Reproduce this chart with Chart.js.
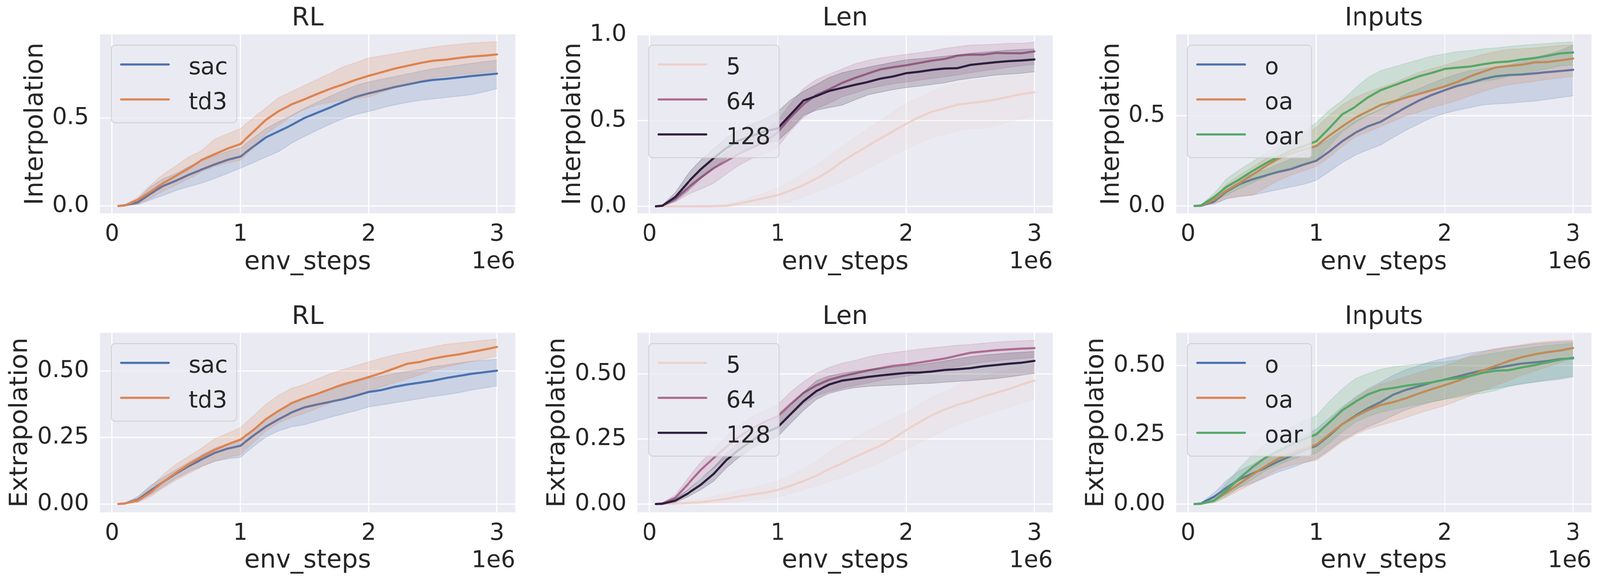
<!DOCTYPE html>
<html>
<head>
<meta charset="utf-8">
<title>Interpolation / Extrapolation</title>
<script src="https://cdn.jsdelivr.net/npm/chart.js@4.4.1/dist/chart.umd.min.js"></script>
<style>
  html, body { margin: 0; padding: 0; background: #ffffff; overflow: hidden; }
  #page { position: relative; width: 4132px; height: 1492px; overflow: hidden; transform-origin: 0 0; }
  .panel { position: absolute; }
</style>
</head>
<body>
<div id="page"></div>
<script>
// x positions of every sample (env steps)
const envSteps = [5e4, 1e5, 2e5, 3e5, 4e5, 5e5, 6e5, 7e5, 8e5, 9e5, 1e6,
  1.1e6, 1.2e6, 1.3e6, 1.4e6, 1.5e6, 1.6e6, 1.7e6, 1.8e6, 1.9e6, 2e6,
  2.1e6, 2.2e6, 2.3e6, 2.4e6, 2.5e6, 2.6e6, 2.7e6, 2.8e6, 2.9e6, 3e6];
const xTicks = [0, 1e6, 2e6, 3e6];
const yTicksTop = [0, 0.5];
const yTicksTopLen = [0, 0.5, 1.0];
const yTicksBottom = [0, 0.25, 0.5];

// --- Interpolation / RL
const intRlSacMean = [0, 0.004, 0.02, 0.07, 0.114, 0.144, 0.178, 0.207, 0.236, 0.262, 0.281, 0.336, 0.39, 0.425, 0.46, 0.50, 0.53, 0.56, 0.59, 0.62, 0.64, 0.657, 0.675, 0.69, 0.705, 0.716, 0.722, 0.73, 0.738, 0.745, 0.752];
const intRlSacHi = [0, 0.007, 0.04, 0.11, 0.155, 0.185, 0.225, 0.255, 0.285, 0.31, 0.33, 0.385, 0.44, 0.48, 0.515, 0.555, 0.59, 0.625, 0.655, 0.685, 0.705, 0.72, 0.735, 0.75, 0.765, 0.78, 0.79, 0.80, 0.81, 0.82, 0.828];
const intRlSacLo = [0, 0.001, 0.008, 0.035, 0.06, 0.088, 0.11, 0.13, 0.156, 0.185, 0.215, 0.245, 0.278, 0.31, 0.357, 0.395, 0.431, 0.465, 0.495, 0.52, 0.537, 0.556, 0.574, 0.588, 0.60, 0.608, 0.616, 0.624, 0.632, 0.648, 0.666];
const intRlTd3Mean = [0, 0.003, 0.035, 0.082, 0.13, 0.172, 0.215, 0.262, 0.294, 0.326, 0.352, 0.42, 0.49, 0.54, 0.577, 0.606, 0.637, 0.666, 0.69, 0.717, 0.74, 0.759, 0.78, 0.796, 0.812, 0.825, 0.831, 0.841, 0.849, 0.854, 0.861];
const intRlTd3Hi = [0, 0.006, 0.05, 0.12, 0.18, 0.23, 0.28, 0.315, 0.38, 0.41, 0.44, 0.50, 0.558, 0.616, 0.65, 0.685, 0.72, 0.754, 0.79, 0.815, 0.841, 0.853, 0.865, 0.878, 0.891, 0.902, 0.912, 0.919, 0.926, 0.93, 0.933];
const intRlTd3Lo = [0, 0.001, 0.01, 0.045, 0.085, 0.12, 0.155, 0.195, 0.225, 0.245, 0.26, 0.33, 0.41, 0.46, 0.51, 0.548, 0.575, 0.59, 0.60, 0.61, 0.62, 0.645, 0.67, 0.69, 0.71, 0.727, 0.737, 0.745, 0.752, 0.758, 0.764];

// --- Interpolation / Len
const intLen5Mean = [0, 0, 0, 0, 0, 0.001, 0.003, 0.016, 0.032, 0.049, 0.065, 0.092, 0.124, 0.162, 0.205, 0.26, 0.308, 0.351, 0.395, 0.438, 0.481, 0.519, 0.551, 0.571, 0.592, 0.602, 0.611, 0.622, 0.638, 0.654, 0.665];
const intLen5Hi = [0, 0, 0, 0.001, 0.002, 0.005, 0.012, 0.03, 0.055, 0.08, 0.108, 0.145, 0.19, 0.24, 0.29, 0.346, 0.40, 0.45, 0.50, 0.55, 0.60, 0.635, 0.665, 0.70, 0.715, 0.73, 0.74, 0.75, 0.76, 0.765, 0.77];
const intLen5Lo = [0, 0, 0, 0, 0, 0, 0, 0.003, 0.007, 0.011, 0.016, 0.03, 0.055, 0.085, 0.115, 0.146, 0.18, 0.22, 0.26, 0.30, 0.335, 0.37, 0.40, 0.42, 0.44, 0.454, 0.455, 0.47, 0.49, 0.51, 0.53];
const intLen64Mean = [0, 0.005, 0.043, 0.108, 0.168, 0.222, 0.265, 0.308, 0.341, 0.378, 0.432, 0.519, 0.595, 0.649, 0.681, 0.719, 0.748, 0.773, 0.798, 0.811, 0.822, 0.835, 0.849, 0.859, 0.878, 0.884, 0.884, 0.894, 0.892, 0.892, 0.903];
const intLen64Hi = [0, 0.008, 0.06, 0.14, 0.21, 0.27, 0.31, 0.36, 0.40, 0.44, 0.497, 0.60, 0.686, 0.74, 0.77, 0.80, 0.83, 0.85, 0.865, 0.875, 0.886, 0.895, 0.905, 0.92, 0.93, 0.94, 0.942, 0.945, 0.95, 0.95, 0.957];
const intLen64Lo = [0, 0.002, 0.025, 0.07, 0.10, 0.135, 0.19, 0.24, 0.28, 0.31, 0.346, 0.44, 0.519, 0.57, 0.60, 0.638, 0.66, 0.685, 0.70, 0.715, 0.724, 0.735, 0.745, 0.755, 0.765, 0.778, 0.79, 0.80, 0.81, 0.82, 0.827];
const intLen128Mean = [0, 0.003, 0.054, 0.14, 0.216, 0.281, 0.341, 0.384, 0.411, 0.438, 0.454, 0.535, 0.616, 0.643, 0.672, 0.69, 0.708, 0.724, 0.744, 0.757, 0.776, 0.784, 0.795, 0.803, 0.805, 0.824, 0.832, 0.84, 0.846, 0.85, 0.856];
const intLen128Hi = [0, 0.006, 0.08, 0.19, 0.27, 0.335, 0.40, 0.445, 0.48, 0.51, 0.551, 0.62, 0.67, 0.71, 0.75, 0.778, 0.795, 0.81, 0.825, 0.84, 0.854, 0.86, 0.867, 0.875, 0.882, 0.892, 0.898, 0.904, 0.91, 0.914, 0.917];
const intLen128Lo = [0, 0.001, 0.03, 0.09, 0.16, 0.222, 0.28, 0.32, 0.345, 0.37, 0.38, 0.45, 0.53, 0.56, 0.575, 0.589, 0.62, 0.649, 0.665, 0.68, 0.692, 0.70, 0.71, 0.72, 0.735, 0.746, 0.755, 0.765, 0.77, 0.775, 0.784];

// --- Interpolation / Inputs
const intInO_Mean = [0, 0.001, 0.024, 0.08, 0.121, 0.147, 0.168, 0.188, 0.204, 0.229, 0.25, 0.301, 0.358, 0.404, 0.44, 0.466, 0.507, 0.546, 0.584, 0.615, 0.641, 0.665, 0.682, 0.703, 0.718, 0.725, 0.728, 0.734, 0.741, 0.747, 0.754];
const intInO_Hi = [0, 0.003, 0.04, 0.11, 0.15, 0.178, 0.2, 0.23, 0.26, 0.295, 0.327, 0.37, 0.42, 0.47, 0.505, 0.533, 0.58, 0.62, 0.65, 0.68, 0.708, 0.73, 0.75, 0.76, 0.77, 0.78, 0.80, 0.82, 0.84, 0.86, 0.89];
const intInO_Lo = [0, 0, 0.01, 0.04, 0.055, 0.06, 0.075, 0.09, 0.105, 0.12, 0.142, 0.19, 0.24, 0.28, 0.31, 0.337, 0.38, 0.42, 0.455, 0.49, 0.512, 0.53, 0.545, 0.56, 0.565, 0.569, 0.575, 0.58, 0.59, 0.60, 0.61];
const intInOaMean = [0, 0.002, 0.034, 0.085, 0.127, 0.173, 0.219, 0.26, 0.291, 0.312, 0.332, 0.389, 0.44, 0.487, 0.523, 0.559, 0.579, 0.60, 0.62, 0.641, 0.662, 0.687, 0.718, 0.744, 0.767, 0.775, 0.782, 0.795, 0.797, 0.806, 0.816];
const intInOaHi = [0, 0.004, 0.05, 0.12, 0.17, 0.214, 0.26, 0.31, 0.35, 0.39, 0.435, 0.50, 0.56, 0.60, 0.63, 0.656, 0.68, 0.71, 0.74, 0.76, 0.78, 0.80, 0.82, 0.84, 0.855, 0.867, 0.87, 0.875, 0.882, 0.888, 0.893];
const intInOaLo = [0, 0, 0.015, 0.04, 0.05, 0.06, 0.1, 0.14, 0.17, 0.195, 0.219, 0.27, 0.33, 0.38, 0.41, 0.44, 0.47, 0.50, 0.52, 0.545, 0.564, 0.585, 0.61, 0.635, 0.655, 0.672, 0.68, 0.69, 0.70, 0.71, 0.718];
const intInOarMean = [0, 0.003, 0.049, 0.106, 0.147, 0.193, 0.235, 0.27, 0.307, 0.332, 0.358, 0.43, 0.507, 0.548, 0.60, 0.641, 0.667, 0.692, 0.718, 0.737, 0.759, 0.766, 0.772, 0.785, 0.795, 0.80, 0.811, 0.819, 0.831, 0.845, 0.85];
const intInOarHi = [0, 0.006, 0.07, 0.15, 0.2, 0.245, 0.29, 0.33, 0.37, 0.41, 0.461, 0.53, 0.584, 0.65, 0.71, 0.749, 0.77, 0.79, 0.81, 0.83, 0.842, 0.855, 0.86, 0.87, 0.875, 0.883, 0.89, 0.895, 0.90, 0.905, 0.908];
const intInOarLo = [0, 0.001, 0.025, 0.06, 0.095, 0.127, 0.16, 0.19, 0.215, 0.235, 0.255, 0.33, 0.41, 0.46, 0.50, 0.533, 0.57, 0.60, 0.625, 0.64, 0.656, 0.67, 0.68, 0.69, 0.70, 0.718, 0.73, 0.745, 0.76, 0.775, 0.78];

// --- Extrapolation / RL
const extRlSacMean = [0, 0.002, 0.016, 0.051, 0.083, 0.115, 0.143, 0.168, 0.192, 0.208, 0.219, 0.256, 0.291, 0.319, 0.344, 0.363, 0.374, 0.384, 0.394, 0.407, 0.421, 0.428, 0.44, 0.449, 0.456, 0.463, 0.473, 0.481, 0.489, 0.495, 0.501];
const extRlSacHi = [0, 0.004, 0.028, 0.07, 0.10, 0.129, 0.158, 0.185, 0.21, 0.226, 0.24, 0.28, 0.32, 0.35, 0.38, 0.40, 0.415, 0.43, 0.445, 0.46, 0.472, 0.48, 0.49, 0.498, 0.506, 0.516, 0.522, 0.53, 0.536, 0.54, 0.544];
const extRlSacLo = [0, 0.001, 0.008, 0.035, 0.065, 0.097, 0.122, 0.142, 0.16, 0.17, 0.175, 0.215, 0.252, 0.275, 0.29, 0.298, 0.312, 0.326, 0.338, 0.35, 0.365, 0.372, 0.38, 0.388, 0.396, 0.404, 0.41, 0.418, 0.428, 0.436, 0.444];
const extRlTd3Mean = [0, 0.002, 0.013, 0.044, 0.083, 0.118, 0.15, 0.178, 0.203, 0.224, 0.242, 0.277, 0.319, 0.351, 0.379, 0.398, 0.414, 0.432, 0.449, 0.463, 0.477, 0.492, 0.509, 0.527, 0.534, 0.546, 0.555, 0.562, 0.571, 0.58, 0.59];
const extRlTd3Hi = [0, 0.004, 0.025, 0.065, 0.11, 0.15, 0.18, 0.21, 0.245, 0.265, 0.287, 0.33, 0.375, 0.41, 0.435, 0.449, 0.47, 0.49, 0.505, 0.52, 0.534, 0.548, 0.56, 0.57, 0.58, 0.59, 0.60, 0.605, 0.61, 0.615, 0.62];
const extRlTd3Lo = [0, 0, 0.005, 0.028, 0.06, 0.09, 0.115, 0.14, 0.16, 0.175, 0.185, 0.23, 0.275, 0.305, 0.325, 0.34, 0.36, 0.38, 0.395, 0.41, 0.425, 0.44, 0.455, 0.47, 0.485, 0.502, 0.515, 0.525, 0.535, 0.545, 0.555];

// --- Extrapolation / Len
const extLen5Mean = [0, 0.001, 0.002, 0.004, 0.007, 0.013, 0.02, 0.029, 0.036, 0.044, 0.054, 0.07, 0.088, 0.109, 0.134, 0.156, 0.181, 0.202, 0.224, 0.252, 0.284, 0.313, 0.341, 0.363, 0.381, 0.395, 0.413, 0.427, 0.441, 0.459, 0.474];
const extLen5Hi = [0, 0.002, 0.006, 0.012, 0.02, 0.03, 0.04, 0.052, 0.062, 0.075, 0.088, 0.11, 0.135, 0.165, 0.2, 0.231, 0.255, 0.28, 0.305, 0.33, 0.352, 0.38, 0.41, 0.43, 0.455, 0.477, 0.49, 0.505, 0.515, 0.527, 0.538];
const extLen5Lo = [0, 0, 0, 0, 0.001, 0.003, 0.006, 0.01, 0.015, 0.02, 0.027, 0.04, 0.055, 0.07, 0.086, 0.102, 0.12, 0.14, 0.16, 0.185, 0.209, 0.235, 0.26, 0.285, 0.305, 0.324, 0.34, 0.355, 0.372, 0.388, 0.402];
const extLen64Mean = [0, 0.002, 0.024, 0.077, 0.131, 0.177, 0.22, 0.259, 0.291, 0.316, 0.338, 0.384, 0.427, 0.456, 0.477, 0.491, 0.502, 0.513, 0.522, 0.531, 0.536, 0.543, 0.551, 0.559, 0.57, 0.581, 0.586, 0.591, 0.594, 0.597, 0.599];
const extLen64Hi = [0, 0.004, 0.035, 0.1, 0.16, 0.209, 0.26, 0.3, 0.335, 0.36, 0.381, 0.43, 0.47, 0.502, 0.525, 0.541, 0.552, 0.565, 0.575, 0.582, 0.588, 0.595, 0.6, 0.605, 0.61, 0.613, 0.618, 0.622, 0.625, 0.627, 0.629];
const extLen64Lo = [0, 0.001, 0.015, 0.055, 0.1, 0.138, 0.18, 0.215, 0.245, 0.27, 0.291, 0.34, 0.385, 0.416, 0.432, 0.445, 0.455, 0.465, 0.475, 0.483, 0.491, 0.5, 0.51, 0.518, 0.528, 0.538, 0.545, 0.55, 0.555, 0.56, 0.563];
const extLen128Mean = [0, 0.001, 0.013, 0.041, 0.074, 0.116, 0.17, 0.209, 0.245, 0.274, 0.295, 0.345, 0.395, 0.434, 0.459, 0.474, 0.481, 0.488, 0.494, 0.499, 0.504, 0.505, 0.509, 0.515, 0.518, 0.522, 0.529, 0.534, 0.539, 0.543, 0.55];
const extLen128Hi = [0, 0.002, 0.02, 0.055, 0.095, 0.141, 0.195, 0.24, 0.275, 0.305, 0.331, 0.38, 0.43, 0.474, 0.492, 0.502, 0.51, 0.516, 0.521, 0.526, 0.531, 0.535, 0.542, 0.55, 0.558, 0.566, 0.572, 0.576, 0.58, 0.583, 0.586];
const extLen128Lo = [0, 0, 0.006, 0.028, 0.055, 0.088, 0.14, 0.18, 0.215, 0.24, 0.259, 0.31, 0.36, 0.402, 0.425, 0.438, 0.447, 0.452, 0.455, 0.457, 0.459, 0.462, 0.464, 0.468, 0.471, 0.474, 0.478, 0.482, 0.488, 0.495, 0.502];

// --- Extrapolation / Inputs
const extInO_Mean = [0, 0.002, 0.026, 0.059, 0.089, 0.11, 0.13, 0.153, 0.173, 0.194, 0.21, 0.247, 0.288, 0.318, 0.345, 0.368, 0.395, 0.412, 0.425, 0.439, 0.449, 0.46, 0.472, 0.483, 0.491, 0.499, 0.507, 0.511, 0.516, 0.523, 0.526];
const extInO_Hi = [0, 0.004, 0.04, 0.085, 0.12, 0.143, 0.17, 0.195, 0.22, 0.245, 0.271, 0.31, 0.35, 0.385, 0.415, 0.439, 0.465, 0.485, 0.5, 0.515, 0.526, 0.535, 0.545, 0.552, 0.56, 0.567, 0.572, 0.578, 0.582, 0.585, 0.587];
const extInO_Lo = [0, 0.001, 0.012, 0.035, 0.06, 0.076, 0.095, 0.115, 0.13, 0.148, 0.163, 0.195, 0.23, 0.255, 0.278, 0.298, 0.32, 0.34, 0.355, 0.368, 0.378, 0.39, 0.40, 0.41, 0.418, 0.425, 0.435, 0.44, 0.445, 0.45, 0.459];
const extInOaMean = [0, 0.001, 0.012, 0.042, 0.073, 0.106, 0.136, 0.163, 0.183, 0.2, 0.214, 0.251, 0.288, 0.315, 0.338, 0.357, 0.368, 0.382, 0.399, 0.415, 0.429, 0.444, 0.462, 0.483, 0.499, 0.516, 0.53, 0.54, 0.548, 0.554, 0.563];
const extInOaHi = [0, 0.002, 0.02, 0.06, 0.095, 0.126, 0.16, 0.19, 0.215, 0.237, 0.257, 0.3, 0.345, 0.38, 0.41, 0.432, 0.445, 0.46, 0.475, 0.488, 0.499, 0.515, 0.535, 0.55, 0.56, 0.567, 0.575, 0.582, 0.587, 0.59, 0.592];
const extInOaLo = [0, 0, 0.005, 0.025, 0.05, 0.073, 0.1, 0.125, 0.14, 0.15, 0.157, 0.19, 0.225, 0.25, 0.27, 0.284, 0.298, 0.312, 0.328, 0.342, 0.355, 0.372, 0.39, 0.41, 0.428, 0.446, 0.465, 0.48, 0.495, 0.51, 0.526];
const extInOarMean = [0, 0.001, 0.012, 0.049, 0.093, 0.133, 0.167, 0.19, 0.214, 0.234, 0.251, 0.294, 0.338, 0.368, 0.395, 0.412, 0.419, 0.427, 0.433, 0.439, 0.449, 0.454, 0.462, 0.474, 0.481, 0.483, 0.493, 0.501, 0.511, 0.521, 0.528];
const extInOarHi = [0, 0.002, 0.022, 0.075, 0.13, 0.177, 0.215, 0.245, 0.275, 0.3, 0.318, 0.37, 0.415, 0.452, 0.47, 0.486, 0.495, 0.5, 0.505, 0.51, 0.513, 0.52, 0.53, 0.538, 0.545, 0.553, 0.56, 0.566, 0.572, 0.576, 0.58];
const extInOarLo = [0, 0, 0.005, 0.028, 0.06, 0.089, 0.12, 0.14, 0.16, 0.175, 0.183, 0.22, 0.26, 0.295, 0.315, 0.331, 0.342, 0.352, 0.36, 0.37, 0.378, 0.385, 0.393, 0.4, 0.41, 0.425, 0.432, 0.44, 0.448, 0.455, 0.462];

// colours (seaborn deep + cubehelix for the numeric hue)
const BLUE = '#4C72B0', ORANGE = '#DD8452', GREEN = '#55A868';
const LEN5 = '#EDD1CB', LEN64 = '#AD6B91', LEN128 = '#2D1E3E';
const INK = '#262626';
const FACE = '#EAEAF2';
const FONT = 'DejaVu Sans';

const rgba = (hex, a) => {
  const n = parseInt(hex.slice(1), 16);
  return `rgba(${(n >> 16) & 255}, ${(n >> 8) & 255}, ${n & 255}, ${a})`;
};
const toPoints = (ys) => ys.map((y, i) => ({x: envSteps[i], y}));

// layout of the grid (in 4132 px wide figure coordinates)
const FIG_W = 4132;
const plotLefts = [258, 1646, 3037];
const plotWidth = 1076;
const axisWidth = 250;
const rows = [
  {top: 0, height: 746, titlePad: {top: 15.4, bottom: 7.6}, xAxisHeight: 200, xTitlePad: 41.4, yTitlePad: 52.5},
  {top: 746, height: 746, titlePad: {top: 33.5, bottom: 7.1}, xAxisHeight: 180.8, xTitlePad: 24, yTitlePad: 12.5}
];

const panels = [
  {row: 0, col: 0, title: 'RL', ylabel: 'Interpolation', yMin: -0.042, yMax: 0.975, yTicks: yTicksTop, dec: 1,
    series: [
      {label: 'sac', color: BLUE, mean: intRlSacMean, hi: intRlSacHi, lo: intRlSacLo},
      {label: 'td3', color: ORANGE, mean: intRlTd3Mean, hi: intRlTd3Hi, lo: intRlTd3Lo}]},
  {row: 0, col: 1, title: 'Len', ylabel: 'Interpolation', yMin: -0.041, yMax: 1.002, yTicks: yTicksTopLen, dec: 1,
    series: [
      {label: '5', color: LEN5, mean: intLen5Mean, hi: intLen5Hi, lo: intLen5Lo},
      {label: '64', color: LEN64, mean: intLen64Mean, hi: intLen64Hi, lo: intLen64Lo},
      {label: '128', color: LEN128, mean: intLen128Mean, hi: intLen128Hi, lo: intLen128Lo}]},
  {row: 0, col: 2, title: 'Inputs', ylabel: 'Interpolation', yMin: -0.041, yMax: 0.95, yTicks: yTicksTop, dec: 1,
    series: [
      {label: 'o', color: BLUE, mean: intInO_Mean, hi: intInO_Hi, lo: intInO_Lo},
      {label: 'oa', color: ORANGE, mean: intInOaMean, hi: intInOaHi, lo: intInOaLo},
      {label: 'oar', color: GREEN, mean: intInOarMean, hi: intInOarHi, lo: intInOarLo}]},
  {row: 1, col: 0, title: 'RL', ylabel: 'Extrapolation', yMin: -0.0314, yMax: 0.6434, yTicks: yTicksBottom, dec: 2,
    series: [
      {label: 'sac', color: BLUE, mean: extRlSacMean, hi: extRlSacHi, lo: extRlSacLo},
      {label: 'td3', color: ORANGE, mean: extRlTd3Mean, hi: extRlTd3Hi, lo: extRlTd3Lo}]},
  {row: 1, col: 1, title: 'Len', ylabel: 'Extrapolation', yMin: -0.032, yMax: 0.658, yTicks: yTicksBottom, dec: 2,
    series: [
      {label: '5', color: LEN5, mean: extLen5Mean, hi: extLen5Hi, lo: extLen5Lo},
      {label: '64', color: LEN64, mean: extLen64Mean, hi: extLen64Hi, lo: extLen64Lo},
      {label: '128', color: LEN128, mean: extLen128Mean, hi: extLen128Hi, lo: extLen128Lo}]},
  {row: 1, col: 2, title: 'Inputs', ylabel: 'Extrapolation', yMin: -0.030, yMax: 0.618, yTicks: yTicksBottom, dec: 2,
    series: [
      {label: 'o', color: BLUE, mean: extInO_Mean, hi: extInO_Hi, lo: extInO_Lo},
      {label: 'oa', color: ORANGE, mean: extInOaMean, hi: extInOaHi, lo: extInOaLo},
      {label: 'oar', color: GREEN, mean: extInOarMean, hi: extInOarHi, lo: extInOarLo}]}
];

// grey face behind the plot area
const facePlugin = {
  id: 'face',
  beforeDraw(chart) {
    const {ctx, chartArea: a} = chart;
    ctx.save();
    ctx.fillStyle = FACE;
    ctx.fillRect(a.left, a.top, a.right - a.left, a.bottom - a.top);
    ctx.restore();
  }
};

// matplotlib-like legend in the upper left corner + the "1e6" offset text
const extrasPlugin = {
  id: 'extras',
  afterDraw(chart, args, opts) {
    const {ctx, chartArea: a} = chart;
    const items = opts.items || [];
    ctx.save();
    ctx.font = `60px "${FONT}"`;
    const textW = Math.max(...items.map(it => ctx.measureText(it.label).width));
    const bx = a.left + 30, by = a.top + 27.6;
    const bw = 222 + textW, bh = 109 + 89.5 * (items.length - 1);
    ctx.beginPath();
    ctx.roundRect(bx, by, bw, bh, 10);
    ctx.fillStyle = 'rgba(234, 234, 242, 0.8)';
    ctx.fill();
    ctx.lineWidth = 2.5;
    ctx.strokeStyle = 'rgba(204, 204, 204, 0.8)';
    ctx.stroke();
    items.forEach((it, i) => {
      const cy = by + 49.4 + 89.5 * i;
      ctx.beginPath();
      ctx.moveTo(bx + 25, cy);
      ctx.lineTo(bx + 148, cy);
      ctx.lineWidth = 5.5;
      ctx.lineCap = 'round';
      ctx.strokeStyle = it.color;
      ctx.stroke();
      ctx.fillStyle = INK;
      ctx.textAlign = 'left';
      ctx.textBaseline = 'alphabetic';
      ctx.fillText(it.label, bx + 199, cy + 25);
    });
    ctx.textAlign = 'right';
    ctx.fillStyle = INK;
    ctx.fillText('1e6', a.right, a.bottom + 140.5);
    ctx.restore();
  }
};

const page = document.getElementById('page');
// the viewport can be narrower than the figure; squeeze the page so the whole figure fits
const sx = window.innerWidth / FIG_W;
if (Math.abs(sx - 1) > 0.0005) page.style.transform = `scaleX(${sx})`;

panels.forEach(p => {
  const row = rows[p.row];
  const wrap = document.createElement('div');
  wrap.className = 'panel';
  wrap.style.left = (plotLefts[p.col] - axisWidth) + 'px';
  wrap.style.top = row.top + 'px';
  wrap.style.width = (axisWidth + plotWidth) + 'px';
  wrap.style.height = row.height + 'px';
  const canvas = document.createElement('canvas');
  wrap.appendChild(canvas);
  page.appendChild(wrap);

  const datasets = [];
  p.series.forEach((s, k) => {
    datasets.push({label: s.label + ' upper', data: toPoints(s.hi), borderColor: rgba(s.color, 0.2), borderWidth: 2,
      backgroundColor: rgba(s.color, 0.2), fill: '+1', pointRadius: 0, order: 30 - 2 * k});
    datasets.push({label: s.label + ' lower', data: toPoints(s.lo), borderColor: rgba(s.color, 0.2), borderWidth: 2,
      fill: false, pointRadius: 0, order: 30 - 2 * k});
    datasets.push({label: s.label, data: toPoints(s.mean), borderColor: s.color, borderWidth: 5.5,
      fill: false, pointRadius: 0, order: 29 - 2 * k});
  });

  const tickFont = {family: FONT, size: 60, lineHeight: 1};
  const labelFont = {family: FONT, size: 65, lineHeight: 1, weight: 'normal'};

  new Chart(canvas, {
    type: 'line',
    data: {datasets},
    plugins: [facePlugin, extrasPlugin],
    options: {
      responsive: true,
      maintainAspectRatio: false,
      animation: false,
      devicePixelRatio: 2,
      events: [],
      layout: {padding: 0},
      elements: {line: {tension: 0, borderJoinStyle: 'round', borderCapStyle: 'round'}},
      plugins: {
        legend: {display: false},
        tooltip: {enabled: false},
        title: {display: true, text: p.title, color: INK, font: labelFont, fullSize: false,
          padding: row.titlePad},
        extras: {items: p.series.map(s => ({label: s.label, color: s.color}))}
      },
      scales: {
        x: {
          type: 'linear', min: -0.095e6, max: 3.145e6,
          afterBuildTicks: sc => { sc.ticks = xTicks.map(v => ({value: v})); },
          afterFit: sc => { sc.height = row.xAxisHeight; },
          ticks: {color: INK, font: tickFont, padding: 24.5, maxRotation: 0, autoSkip: false,
            callback: v => String(v / 1e6)},
          grid: {color: '#ffffff', lineWidth: 3, drawTicks: false},
          border: {display: false},
          title: {display: true, text: 'env_steps', color: INK, font: labelFont, padding: {top: 0, bottom: row.xTitlePad}}
        },
        y: {
          type: 'linear', min: p.yMin, max: p.yMax,
          afterBuildTicks: sc => { sc.ticks = p.yTicks.map(v => ({value: v})); },
          afterFit: sc => { sc.width = axisWidth; },
          ticks: {color: INK, font: tickFont, padding: 28, autoSkip: false,
            callback: v => Number(v).toFixed(p.dec)},
          grid: {color: '#ffffff', lineWidth: 3, drawTicks: false},
          border: {display: false},
          title: {display: true, text: p.ylabel, color: INK, font: labelFont, padding: {top: row.yTitlePad, bottom: 0}}
        }
      }
    }
  });
});
</script>
</body>
</html>
